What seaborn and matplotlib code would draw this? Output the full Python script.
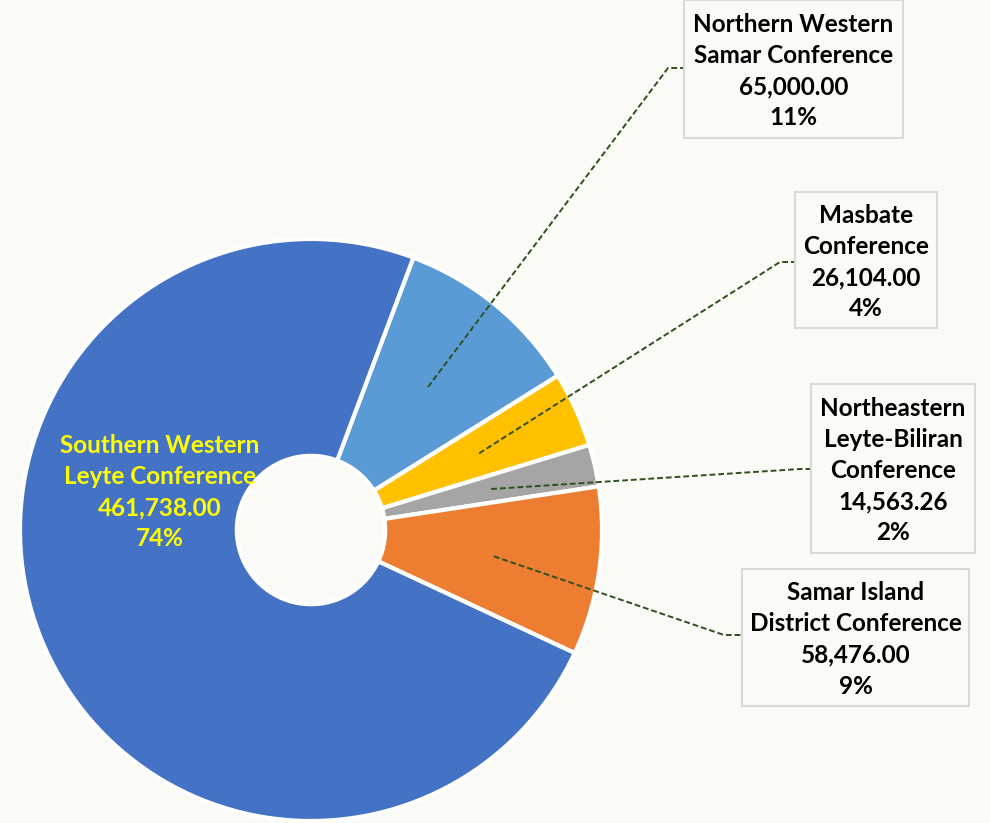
import numpy as np
import matplotlib
matplotlib.use("Agg")
import matplotlib.pyplot as plt
import seaborn as sns
from matplotlib.patches import Rectangle

# ---- data ----
categories = ["Northern Western\nSamar Conference", "Masbate\nConference",
              "Northeastern\nLeyte-Biliran\nConference", "Samar Island\nDistrict Conference",
              "Southern Western\nLeyte Conference"]
values = [65000.00, 26104.00, 14563.26, 58476.00, 461738.00]
pct_labels = ["11%", "4%", "2%", "9%", "74%"]
colors = ["#5B9BD5", "#FFC000", "#A5A5A5", "#ED7D31", "#4472C4"]

sns.set_theme(style="white")
plt.rcParams['font.family'] = ['Lato', 'DejaVu Sans']

W, H = 990, 823
BG = "#FAFAF6"
fig = plt.figure(figsize=(W / 100, H / 100), dpi=100, facecolor=BG)
ax = fig.add_axes([0, 0, 1, 1])
ax.set_facecolor(BG)

cx, cy, R = 311, H - 530, 291
start = 69.4
wedges, _ = ax.pie(values, colors=colors, startangle=start, counterclock=False,
                   center=(cx, cy), radius=R, frame=True,
                   wedgeprops=dict(width=R * 0.745, edgecolor="white", linewidth=3))
ax.set_xlim(0, W)
ax.set_ylim(0, H)
ax.set_aspect("equal")
ax.axis("off")

def fmt(i):
    return f"{categories[i]}\n{values[i]:,.2f}\n{pct_labels[i]}"

FS = 17.5
LS = 1.43
# boxes: (x0, y0_top, x1, y1_bottom) in pixel (top-origin) coords
boxes = [(684, 0, 903, 138), (795, 192, 937, 328), (811, 384, 975, 553), (742, 569, 969, 706)]
elbows = [(668, 68), (780, 262), (800, 469), (724, 635)]
leader_col = "#2F5020"

for i, (b, e) in enumerate(zip(boxes, elbows)):
    x0, y0, x1, y1 = b
    ax.add_patch(Rectangle((x0, H - y1), x1 - x0, y1 - y0, facecolor=BG,
                           edgecolor="#D9D9D9", linewidth=1.5, zorder=3))
    ax.text((x0 + x1) / 2, H - (y0 + y1) / 2 - 2, fmt(i), ha="center", va="center",
            fontsize=FS, fontweight="bold", color="black", linespacing=LS, zorder=4)
    w = wedges[i]
    mid = np.deg2rad((w.theta1 + w.theta2) / 2)
    sx, sy = cx + 0.635 * R * np.cos(mid), cy + 0.635 * R * np.sin(mid)
    ex, ey = e[0], H - e[1]
    ax.plot([sx, ex, x0], [sy, ey, ey], ls=(0, (3, 1.5)), color=leader_col, lw=1.4, zorder=2)

ax.text(160, H - 492, fmt(4), ha="center", va="center", fontsize=FS,
        fontweight="bold", color="#FFFF00", linespacing=LS, zorder=4)

fig.savefig("out.png", dpi=100, facecolor=BG)
